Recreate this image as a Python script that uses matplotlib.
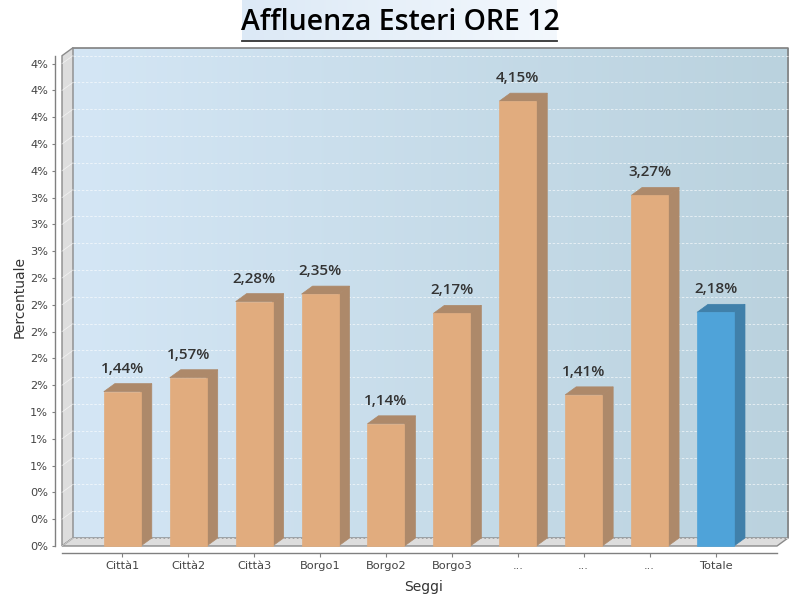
import numpy as np
import matplotlib
matplotlib.use('Agg')
import matplotlib.pyplot as plt
from matplotlib.patches import Polygon, Rectangle
from matplotlib.colors import LinearSegmentedColormap

# ---------------- data ----------------
categories = ['Città1', 'Città2', 'Città3', 'Borgo1', 'Borgo2', 'Borgo3', '...', '...', '...', 'Totale']
values = [1.44, 1.57, 2.28, 2.35, 1.14, 2.17, 4.15, 1.41, 3.27, 2.18]
y_ticks = [0, 0.25, 0.5, 0.75, 1.0, 1.25, 1.5, 1.75, 2.0, 2.25, 2.5, 2.75, 3.0, 3.25, 3.5, 3.75, 4.0, 4.25, 4.5]
y_tick_labels = ['%d%%' % round(t) for t in y_ticks]
title = 'Affluenza Esteri ORE 12'
x_label = 'Seggi'
y_label = 'Percentuale'

# ---------------- layout (pixels) ----------------
W, H = 800, 600
L, R, B, T = 62, 777, 546, 55.7
DXp, DYp = 11, 8
XLIM = (-0.915, 9.933)
YLIM = (0, 4.574)
BAR_W = 0.561

fig = plt.figure(figsize=(8, 6), dpi=100)
fig.patch.set_facecolor('white')

# back wall with gradient
axb = fig.add_axes([(L + DXp) / W, (H - B + DYp) / H, (R - L) / W, (B - T) / H])
grad = np.linspace(0, 1, 256).reshape(1, -1)
cmap = LinearSegmentedColormap.from_list('wall', ['#d4e6f5', '#bad2de'])
axb.imshow(grad, aspect='auto', cmap=cmap, extent=[0, 1, 0, 1], interpolation='bicubic')
axb.set_xlim(0, 1)
axb.set_ylim(0, 1)
axb.set_axis_off()
axb.plot([0, 1, 1], [1, 1, 0], color='#808080', lw=1.2, transform=axb.transAxes, clip_on=False)

ax = fig.add_axes([L / W, (H - B) / H, (R - L) / W, (B - T) / H])
ax.patch.set_alpha(0)
ax.set_xlim(*XLIM)
ax.set_ylim(*YLIM)

px_x = (R - L) / (XLIM[1] - XLIM[0])
px_y = (B - T) / (YLIM[1] - YLIM[0])
DX = DXp / px_x
DY = DYp / px_y
x0, x1 = XLIM
y1 = YLIM[1]

# left wall
ax.add_patch(Polygon([(x0, 0), (x0 + DX, DY), (x0 + DX, y1 + DY), (x0, y1)], closed=True,
                     facecolor='#dddddd', edgecolor='#8a8a8a', lw=1.0, clip_on=False, zorder=1))
# floor
ax.add_patch(Polygon([(x0, 0), (x1, 0), (x1 + DX, DY), (x0 + DX, DY)], closed=True,
                     facecolor='#dddddd', edgecolor='#8a8a8a', lw=1.0, clip_on=False, zorder=1))

# gridlines on back wall and left wall
for t in y_ticks:
    ax.plot([x0 + DX, x1 + DX], [t + DY, t + DY], color='white', lw=0.6, ls=(0, (3, 2)),
            alpha=0.7, clip_on=False, zorder=2)
    ax.plot([x0, x0 + DX], [t, t + DY], color='white', lw=0.6, alpha=0.6, clip_on=False, zorder=2)

# bars
for i, (cat, v) in enumerate(zip(categories, values)):
    if cat == 'Totale':
        fc, dc = '#4fa3d9', '#4080aa'
    else:
        fc, dc = '#e1ac7e', '#ad896a'
    l, r = i - BAR_W / 2, i + BAR_W / 2
    ax.add_patch(Polygon([(r, 0), (r + DX, DY), (r + DX, v + DY), (r, v)], closed=True,
                         facecolor=dc, edgecolor=dc, lw=0.5, clip_on=False, zorder=3))
    ax.add_patch(Polygon([(l, v), (r, v), (r + DX, v + DY), (l + DX, v + DY)], closed=True,
                         facecolor=dc, edgecolor=dc, lw=0.5, clip_on=False, zorder=3))
    ax.add_patch(Rectangle((l, 0), BAR_W, v, facecolor=fc, edgecolor=fc, lw=0.5,
                           clip_on=False, zorder=4))
    ax.text(i, v + DY + 11 / px_y, ('%.2f%%' % v).replace('.', ','), ha='center', va='baseline',
            fontsize=11, family='Open Sans', fontweight='semibold', color='#333333', zorder=5)

# axes styling
for s in ['top', 'right']:
    ax.spines[s].set_visible(False)
for s in ['left', 'bottom']:
    ax.spines[s].set_position(('outward', 5))
    ax.spines[s].set_color('#808080')
    ax.spines[s].set_linewidth(1.0)
ax.set_xticks(range(len(categories)))
ax.set_xticklabels(categories)
ax.set_yticks(y_ticks)
ax.set_yticklabels(y_tick_labels)
ax.tick_params(axis='y', length=2, pad=3, labelsize=8.2, labelcolor='#444444', color='#808080')
ax.tick_params(axis='x', length=3, pad=3, labelsize=8.2, labelcolor='#444444', color='#808080')

# axis labels
fig.text(20 / W, 1 - 297 / H, y_label, rotation=90, ha='center', va='center', fontsize=10, color='#333333')
fig.text(424 / W, 1 - 587 / H, x_label, ha='center', va='center', fontsize=10, color='#333333')

# title with gradient box
axt = fig.add_axes([242 / W, 1 - 41 / H, 315 / W, 41 / H])
tcmap = LinearSegmentedColormap.from_list('tb', ['#dce9f6', '#f3f8fd'])
axt.imshow(grad, aspect='auto', cmap=tcmap, extent=[0, 1, 0, 1])
axt.set_xlim(0, 1)
axt.set_ylim(0, 1)
axt.set_axis_off()
axt.plot([0, 1], [0.01, 0.01], color='#333333', lw=1.3, transform=axt.transAxes, clip_on=False)
fig.text(400 / W, 1 - 30 / H, title, ha='center', va='baseline', fontsize=20.5,
         family='Open Sans', fontweight='semibold', color='black')

fig.savefig('out.png', dpi=100)
